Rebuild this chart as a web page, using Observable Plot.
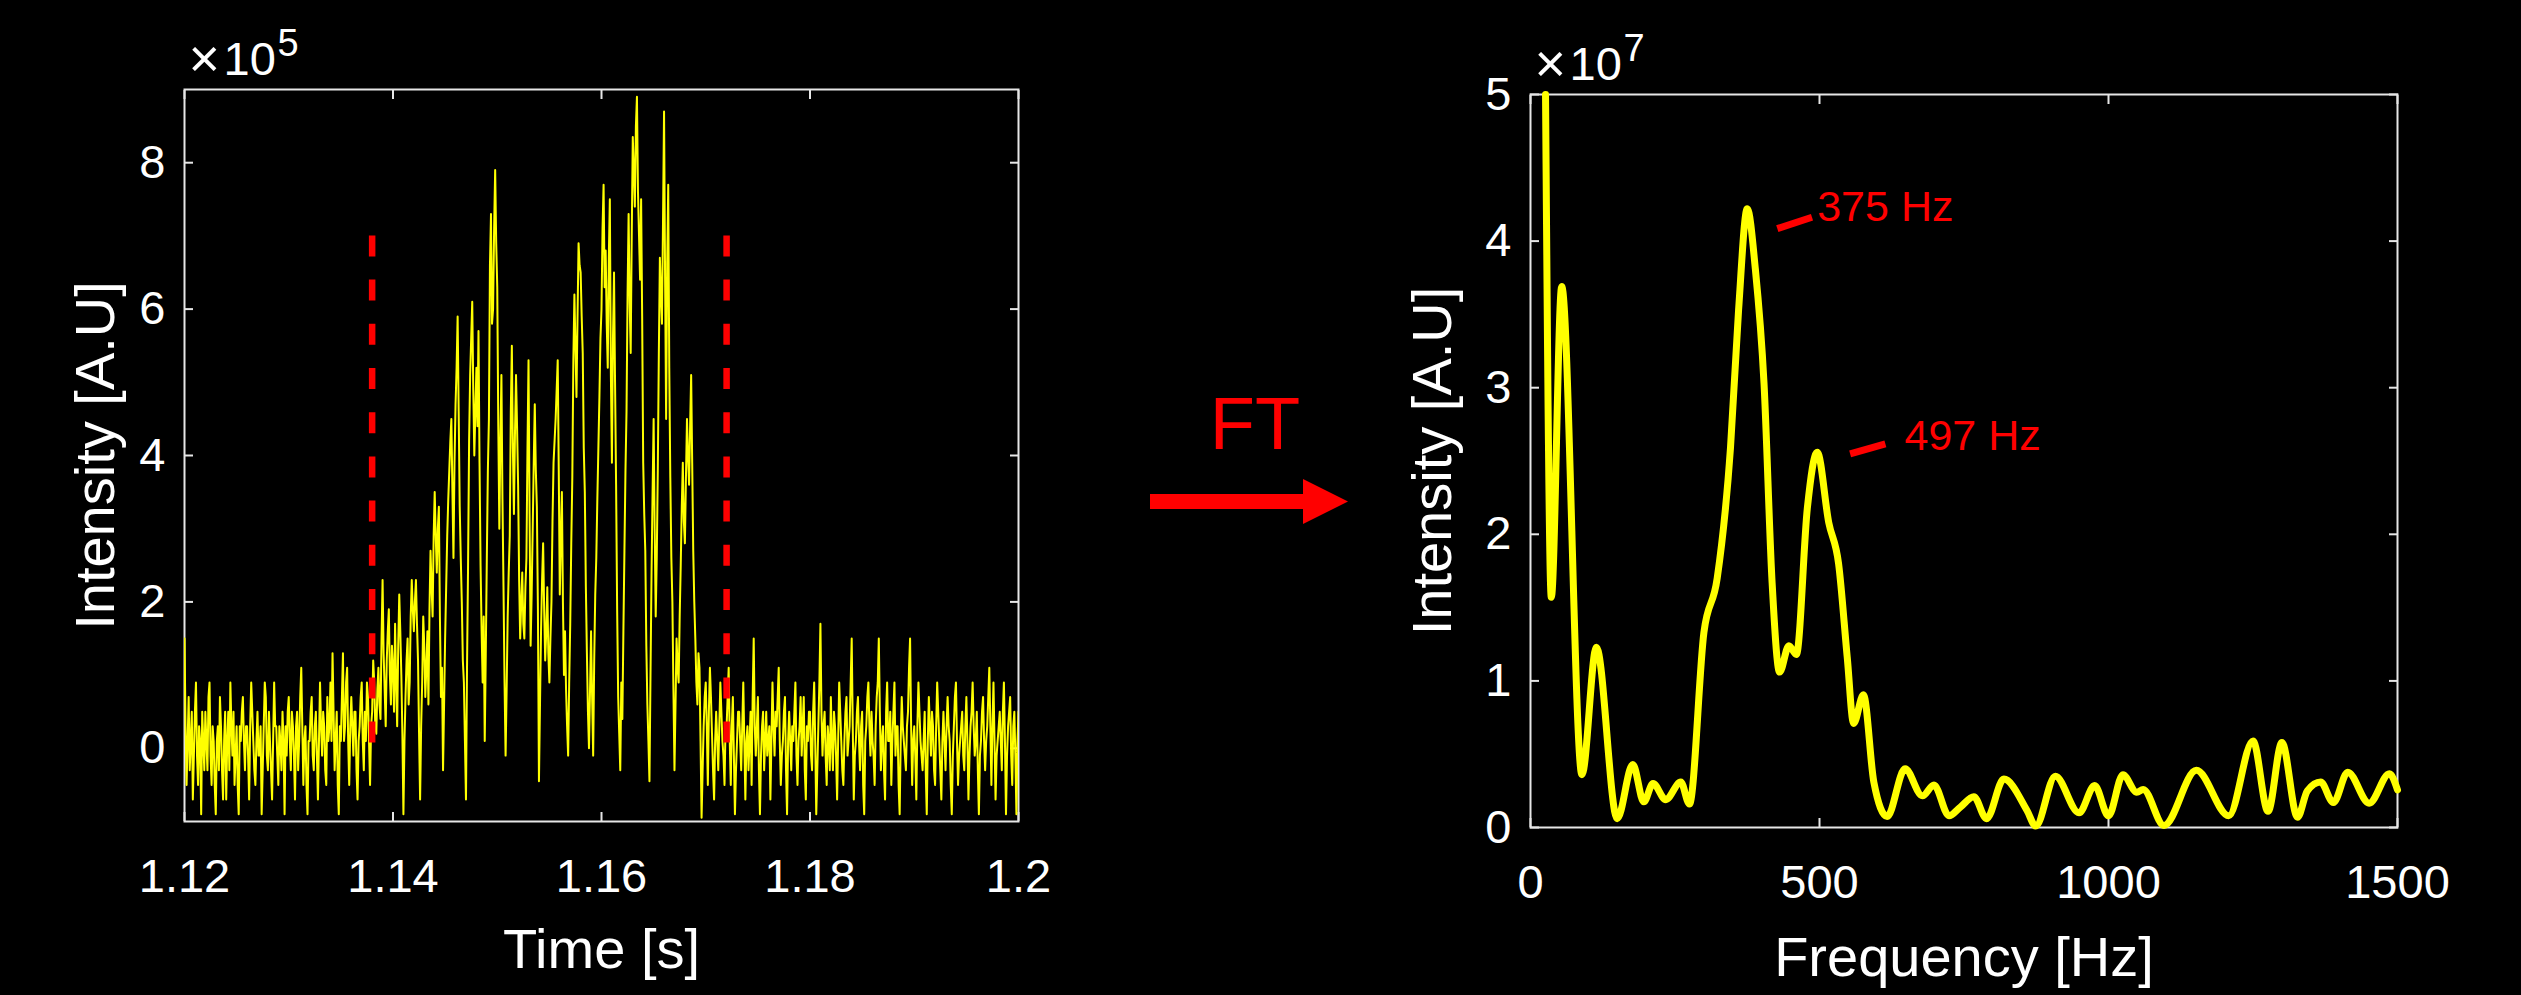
<!DOCTYPE html>
<html>
<head>
<meta charset="utf-8">
<script src="https://cdn.jsdelivr.net/npm/d3@7"></script>
<script src="https://cdn.jsdelivr.net/npm/@observablehq/plot@0.6"></script>
<style>
  html, body { margin: 0; padding: 0; background: #000; }
  #stage { position: relative; width: 2521px; height: 995px; overflow: hidden; background: #000; }
  .panel { position: absolute; top: 0; }
</style>
</head>
<body>
<div id="stage"></div>
<script>
// ---------------- DATA ----------------
// Left panel: time signal (intensity in units of 1e5), uniformly sampled
const timeStart = 1.12;      // s
const sampleStep = 0.0001;   // s
const preBurst = [
  1.5, 0.3, -0.5, 0.1, 0.7, -0.3, 0.1, 0.5, -0.7, -0.1, 0.5, 0.9, -0.1, -0.5, 0.3, 0.1, -0.9, 0.5, 0.1, -0.3,
  0.5, 0.1, -0.3, 0.7, 0.9, -0.1, -0.5, 0.3, 0.1, -0.5, -0.9, 0.1, 0.3, -0.3, 0.7, 0.3, -0.3, -0.7, 0.1, 0.5,
  -0.7, 0.1, 0.5, -0.3, 0.9, 0.3, -0.1, 0.5, -0.5, -0.1, 0.3, -0.5, -0.9, 0.3, 0.1, 0.5, 0.7, 0.1, -0.3, 0.3,
  0.3, -0.1, -0.7, 0.3, 0.9, 0.5, 0.1, -0.3, -0.5, 0.1, 0.5, -0.1, -0.1, 0.3, -0.9, -0.3, 0.3, 0.9, 0.7, -0.1,
  -0.3, 0.5, 0.1, -0.3, -0.7, 0.1, 0.9, 0.3, 0.3, -0.1, -0.5, 0.3, 0.1, -0.3, 0.5, 0.1, -0.9, 0.3, -0.1, 0.5,
  0.7, 0.1, -0.3, 0.5, 0.3, -0.1, -0.7, 0.3, 0.5, -0.3, 0.1, 0.7, 1.1, 0.3, -0.5, 0.1, 0.3, -0.5, -0.9, 0.1,
  0.1, 0.5, 0.7, -0.1, -0.3, 0.3, 0.5, -0.1, -0.7, 0.1, 0.9, 0.3, -0.1, 0.5, 0.3, -0.3, -0.5, 0.7, 0.1, 0.3,
  0.9, 0.1, 1.3, 0.5, -0.3, 0.1, 0.5, -0.5, -0.9, 0.3, 0.1, 0.7, 1.3, 0.1, 0.3, 0.9, 1.1, 0.1, -0.5, 0.3,
  0.7, 0.3, -0.1, 0.5, 0.5, -0.3, -0.7, 0.1, 0.3, 0.7, 0.9, 0.1, -0.3, 0.5, 0.1, 0.9, 0.7, 0.1, -0.5, 0.3
];
const burst = [
  0.5, 1.2, 0.9, 0.3, 0.2, 0.8, 1.1, 0.6, 0.4, 1.5, 2.3, 1.3, 0.8, 0.3, 1.2, 1.6, 1.9, 1.0, 0.6, 1.4,
  1.1, 0.5, 1.7, 0.9, 0.3, 1.4, 2.1, 1.6, 1.0, 0.2, -0.9, 0.1, 0.7, 1.2, 1.5, 0.6, 0.9, 1.8, 2.3, 1.9,
  1.6, 2.0, 2.3, 1.7, 1.2, 0.2, -0.7, 0.3, 0.9, 1.8, 1.4, 0.7, 1.1, 1.6, 0.6, 1.9, 2.7, 2.2, 1.8, 2.9,
  3.5, 2.9, 2.4, 3.0, 3.3, 1.8, 0.7, 1.1, -0.3, 0.6, 1.5, 2.2, 2.9, 3.4, 3.8, 4.2, 4.5, 3.5, 2.6, 3.9,
  4.7, 5.2, 5.9, 4.6, 3.3, 2.6, 2.0, 1.2, 0.9, 0.1, -0.7, 1.1, 2.5, 4.2, 5.1, 5.6, 6.1, 4.9, 4.0, 4.6,
  5.2, 4.4, 5.7, 3.9, 2.5, 1.6, 0.9, 1.8, 0.1, 1.3, 2.6, 3.8, 4.5, 6.6, 7.3, 5.8, 6.0, 7.1, 7.9, 6.9,
  6.3, 4.4, 3.0, 4.2, 5.1, 3.4, 2.2, 0.9, -0.1, 0.8, 1.8, 2.4, 2.9, 4.6, 5.5, 4.1, 3.2, 4.3, 5.1, 4.4,
  3.6, 2.3, 1.5, 2.0, 2.4, 1.7, 1.5, 2.2, 2.6, 4.1, 5.3, 3.2, 1.4, 2.1, 3.0, 3.9, 4.7, 3.8, 3.3, 1.9,
  -0.45, 0.6, 1.6, 2.3, 2.8, 1.9, 1.2, 1.6, 2.2, 1.3, 0.9, 1.5, 2.0, 3.1, 3.9, 4.2, 4.5, 4.9, 5.3, 3.8,
  2.1, 2.9, 3.5, 2.0, 1.0, 1.6, 0.8, 0.3, -0.1, 0.9, 1.7, 2.8, 3.7, 5.3, 6.2, 5.5, 4.8, 5.9, 6.9, 6.6,
  6.5, 5.9, 5.4, 4.1, 3.5, 2.2, 1.3, 0.5, 0.0, 0.8, 1.6, 0.7, -0.1, 1.2, 2.1, 2.6, 3.4, 4.1, 4.8, 5.6,
  6.0, 7.1, 7.7, 6.3, 6.8, 5.8, 5.2, 6.7, 7.5, 5.1, 3.9, 5.6, 6.5, 5.0, 3.6, 1.9, 0.7, 0.2, -0.3, 0.9,
  0.4, 1.6, 2.7, 3.8, 4.6, 6.2, 7.3, 6.1, 5.4, 7.0, 8.35, 7.9, 7.4, 8.5, 8.9, 7.6, 7.0, 6.4, 7.5, 5.9,
  3.9, 3.2, 2.7, 1.4, 0.6, 0.1, -0.45, 1.0, 2.4, 3.5, 4.5, 3.0, 1.8, 2.6, 3.8, 5.4, 6.7, 6.2, 5.8, 7.2,
  8.7, 6.4, 4.5, 6.6, 7.7, 5.2, 3.7, 2.6, 2.0, 0.8, -0.3, 0.6, 1.5, 1.1, 0.9, 1.8, 2.5, 3.3, 3.9, 3.1,
  2.8, 3.7, 4.5, 4.0, 3.6, 4.4, 5.1, 3.9, 2.7, 2.0, 1.5, 0.9, 0.6, 1.3, 1.1, 0.1, -0.95, -0.3, 0.3, 0.7,
  0.9, 0.3, -0.5, 0.5, 1.1, 0.7, 0.2, -0.3, -0.7, 0.1, 0.5, 0.1, -0.3, 0.3, 0.9, 0.5, 0.1, -0.1, -0.5, 0.3
];
const postBurst = [
  0.3, 0.7, 1.1, 0.1, -0.5, 0.3, 0.7, -0.1, -0.9, -0.3, 0.1, 0.5, 0.5, 0.1, -0.3, 0.3, 0.9, 0.1, -0.7, 0.1,
  0.3, -0.3, 0.1, 0.5, -0.5, 0.7, 1.5, 0.3, -0.1, 0.3, 0.7, -0.3, -0.9, -0.1, 0.3, 0.5, -0.3, 0.1, 0.5, -0.1,
  0.1, 0.3, -0.7, 0.1, 0.9, 0.3, -0.1, 0.5, 0.3, 0.7, 1.1, 0.1, -0.5, -0.1, 0.1, 0.5, 0.7, -0.3, -0.9, 0.1,
  0.5, 0.1, -0.3, 0.3, 0.1, 0.5, 0.9, -0.1, -0.5, 0.1, 0.3, 0.7, -0.1, 0.3, 0.7, -0.3, -0.7, 0.3, 0.1, 0.5,
  0.5, -0.1, -0.3, 0.5, 0.9, 0.1, -0.9, -0.3, 0.3, 0.9, 1.7, 0.5, -0.1, 0.3, 0.5, -0.1, -0.5, 0.3, 0.1, -0.3,
  0.7, 0.1, -0.3, 0.5, 0.3, -0.1, -0.7, 0.1, 0.9, 0.5, 0.1, -0.3, -0.5, 0.1, 0.5, 0.7, -0.1, 0.1, 0.3, 0.9,
  1.5, 0.3, -0.7, -0.1, 0.1, 0.5, 0.7, 0.1, -0.3, 0.3, 0.5, -0.5, -0.9, 0.1, 0.3, 0.7, 0.9, 0.3, -0.1, 0.5,
  0.1, -0.1, -0.5, 0.3, 0.7, 0.9, 1.5, 0.5, -0.3, 0.1, 0.3, -0.3, -0.7, 0.5, 0.9, 0.1, 0.1, 0.5, -0.5, 0.1,
  0.5, 0.9, -0.1, 0.3, 0.3, -0.5, -0.9, 0.1, 0.7, 0.3, 0.1, -0.1, -0.3, 0.3, 0.5, 1.1, 1.5, 0.3, -0.5, 0.1,
  0.3, -0.1, -0.7, 0.3, 0.9, 0.5, 0.1, -0.1, -0.3, 0.1, 0.5, -0.3, -0.9, 0.1, 0.7, 0.3, -0.1, 0.5, 0.3, -0.3,
  -0.5, 0.3, 0.9, 0.5, 0.1, -0.3, -0.7, 0.1, 0.5, 0.1, -0.3, 0.3, 0.7, 0.3, 0.1, -0.5, -0.9, -0.1, 0.3, 0.7,
  0.9, 0.1, -0.5, -0.1, 0.1, 0.3, 0.5, -0.1, -0.3, 0.3, 0.7, 0.1, -0.7, -0.1, 0.3, 0.5, 0.9, 0.3, -0.1, 0.1,
  0.5, -0.3, -0.9, -0.1, 0.1, 0.5, 0.7, 0.1, -0.3, 0.1, 0.3, 0.7, 1.1, 0.3, -0.5, 0.3, 0.9, 0.1, -0.7, -0.1,
  0.1, 0.3, 0.5, 0.1, -0.3, 0.5, 0.9, 0.1, -0.9, -0.1, 0.3, 0.5, 0.7, -0.1, -0.5, 0.3, 0.5, -0.1, -0.9, 0.1,
  0.5
];
const markerTimes = [1.138, 1.172];   // red dashed window limits (s)
const markerTop = 7;                  // x1e5
const markerBottom = 0;
const timeTicks = [1.12, 1.14, 1.16, 1.18, 1.2];
const timeTickLabels = ["1.12", "1.14", "1.16", "1.18", "1.2"];
const intensityTicks = [0, 2, 4, 6, 8];
const intensityTickLabels = ["0", "2", "4", "6", "8"];
const leftExponent = "5";

// Right panel: Fourier spectrum (intensity in units of 1e7)
const freqHz = [26, 36, 54, 89, 114, 150, 177, 196, 212, 234, 260, 275, 300, 323, 346, 360, 375, 389, 404, 418,
  431, 447, 460, 479, 496, 516, 533, 548, 559, 576, 594, 617, 648, 678, 698, 724, 744, 767, 789, 819,
  859, 874, 908, 949, 976, 1000, 1025, 1049, 1060, 1096, 1152, 1208, 1250, 1276, 1300, 1327, 1344, 1367, 1389, 1414,
  1451, 1486, 1500];
const ftAmp = [5.0, 1.57, 3.69, 0.36, 1.23, 0.06, 0.43, 0.175, 0.30, 0.19, 0.31, 0.16, 1.33, 1.70, 2.59, 3.53, 4.22, 3.81, 3.03, 1.67,
  1.06, 1.24, 1.18, 2.18, 2.56, 2.08, 1.80, 1.16, 0.71, 0.905, 0.31, 0.075, 0.40, 0.216, 0.29, 0.08, 0.14, 0.21, 0.06, 0.33,
  0.116, 0.01, 0.35, 0.10, 0.286, 0.08, 0.36, 0.24, 0.26, 0.014, 0.39, 0.08, 0.59, 0.11, 0.58, 0.07, 0.25, 0.31, 0.17, 0.377,
  0.166, 0.366, 0.257];
const freqTicks = [0, 500, 1000, 1500];
const freqTickLabels = ["0", "500", "1000", "1500"];
const ampTicks = [0, 1, 2, 3, 4, 5];
const ampTickLabels = ["0", "1", "2", "3", "4", "5"];
const rightExponent = "7";
const peakNames = ["375 Hz", "497 Hz"];
const peakTextHz = [496, 647];
const peakTextAmp = [4.14, 2.575];
const leaderHz1 = [427, 553];
const leaderAmp1 = [4.085, 2.549];
const leaderHz2 = [487, 614];
const leaderAmp2 = [4.163, 2.617];

// ---------------- STYLE ----------------
const FONT = '"Liberation Sans", Arial, Helvetica, sans-serif';
const AXIS = "#e6e6e6";
const YELLOW = "#ffff00";
const RED = "#ff0000";
const TICK_FS = 47;
const TITLE_FS = 56;

const signal = preBurst.concat(burst, postBurst).map((v, i) => ({t: timeStart + i * sampleStep, v}));
const spectrum = freqHz.map((f, i) => ({f, a: ftAmp[i]}));
const peaks = peakNames.map((name, i) => ({
  name, x: peakTextHz[i], y: peakTextAmp[i],
  x1: leaderHz1[i], y1: leaderAmp1[i], x2: leaderHz2[i], y2: leaderAmp2[i]
}));

function frameAxes(xTicks, xLabels, yTicks, yLabels) {
  const common = {stroke: AXIS, strokeWidth: 2, tickSize: -9, fontSize: TICK_FS};
  return [
    Plot.frame({stroke: AXIS, strokeWidth: 2}),
    Plot.axisX({...common, anchor: "bottom", ticks: xTicks, tickPadding: 46, fill: "white",
      tickFormat: d => xLabels[xTicks.indexOf(d)], label: null}),
    Plot.axisX({...common, anchor: "top", ticks: xTicks, fill: "none", label: null}),
    Plot.axisY({...common, anchor: "left", ticks: yTicks, tickPadding: 28, fill: "white",
      tickFormat: d => yLabels[yTicks.indexOf(d)], label: null}),
    Plot.axisY({...common, anchor: "right", ticks: yTicks, fill: "none", label: null})
  ];
}

function exponentMarks(exp) {
  return [
    Plot.text(["×"], {frameAnchor: "top-left", dx: 4, dy: -13, lineAnchor: "bottom", textAnchor: "start",
      fill: "white", fontSize: 54}),
    Plot.text(["10"], {frameAnchor: "top-left", dx: 39, dy: -15, lineAnchor: "bottom", textAnchor: "start",
      fill: "white", fontSize: TICK_FS}),
    Plot.text([exp], {frameAnchor: "top-left", dx: 93, dy: -34, lineAnchor: "bottom", textAnchor: "start",
      fill: "white", fontSize: 38})
  ];
}

// ---------------- LEFT PANEL ----------------
const left = Plot.plot({
  width: 1100, height: 995,
  marginLeft: 184, marginRight: 82, marginTop: 89, marginBottom: 174,
  style: {background: "black", color: "white", fontFamily: FONT, overflow: "visible"},
  x: {domain: [1.12, 1.2]},
  y: {domain: [-1, 9]},
  marks: [
    ...frameAxes(timeTicks, timeTickLabels, intensityTicks, intensityTickLabels),
    Plot.line(signal, {x: "t", y: "v", stroke: YELLOW, strokeWidth: 2, clip: true}),
    Plot.ruleX(markerTimes, {x: d => d, y1: markerTop, y2: markerBottom, stroke: RED, strokeWidth: 6.5,
      strokeDasharray: "21,23.2", strokeLinecap: "butt"}),
    Plot.text(["Time [s]"], {frameAnchor: "bottom", dy: 146, lineAnchor: "bottom", textAnchor: "middle",
      fill: "white", fontSize: TITLE_FS}),
    Plot.text(["Intensity [A.U]"], {frameAnchor: "left", rotate: -90, dx: -110, lineAnchor: "top",
      textAnchor: "middle", fill: "white", fontSize: TITLE_FS}),
    ...exponentMarks(leftExponent)
  ]
});

// ---------------- RIGHT PANEL ----------------
const right = Plot.plot({
  width: 1121, height: 995,
  marginLeft: 130, marginRight: 124, marginTop: 94, marginBottom: 168,
  style: {background: "black", color: "white", fontFamily: FONT, overflow: "visible"},
  x: {domain: [0, 1500]},
  y: {domain: [0, 5]},
  marks: [
    ...frameAxes(freqTicks, freqTickLabels, ampTicks, ampTickLabels),
    Plot.line(spectrum, {x: "f", y: "a", stroke: YELLOW, strokeWidth: 7, curve: "monotone-x",
      strokeLinecap: "round", strokeLinejoin: "round"}),
    Plot.link(peaks, {x1: "x1", y1: "y1", x2: "x2", y2: "y2", stroke: RED, strokeWidth: 7, strokeLinecap: "butt"}),
    Plot.text(peaks, {x: "x", y: "y", text: "name", fill: RED, fontSize: 43, textAnchor: "start", lineAnchor: "bottom"}),
    Plot.text(["Frequency [Hz]"], {frameAnchor: "bottom", dy: 148, lineAnchor: "bottom", textAnchor: "middle",
      fill: "white", fontSize: TITLE_FS}),
    Plot.text(["Intensity [A.U]"], {frameAnchor: "left", rotate: -90, dx: -119, lineAnchor: "top",
      textAnchor: "middle", fill: "white", fontSize: TITLE_FS}),
    ...exponentMarks(rightExponent)
  ]
});

const stage = document.getElementById("stage");
const lw = document.createElement("div"); lw.className = "panel"; lw.style.left = "0px"; lw.appendChild(left);
const rw = document.createElement("div"); rw.className = "panel"; rw.style.left = "1400px"; rw.appendChild(right);
stage.appendChild(lw); stage.appendChild(rw);

// FT arrow annotation between the panels
const ft = d3.select(stage).append("svg")
  .attr("width", 300).attr("height", 200)
  .style("position", "absolute").style("left", "1100px").style("top", "350px");
ft.append("text").attr("x", 155).attr("y", 99).attr("text-anchor", "middle")
  .attr("font-family", FONT).attr("font-size", 74).attr("fill", RED).text("FT");
ft.append("polygon")
  .attr("points", "50,144 203,144 203,129 248,151.5 203,174 203,159 50,159")
  .attr("fill", RED);
</script>
</body>
</html>
